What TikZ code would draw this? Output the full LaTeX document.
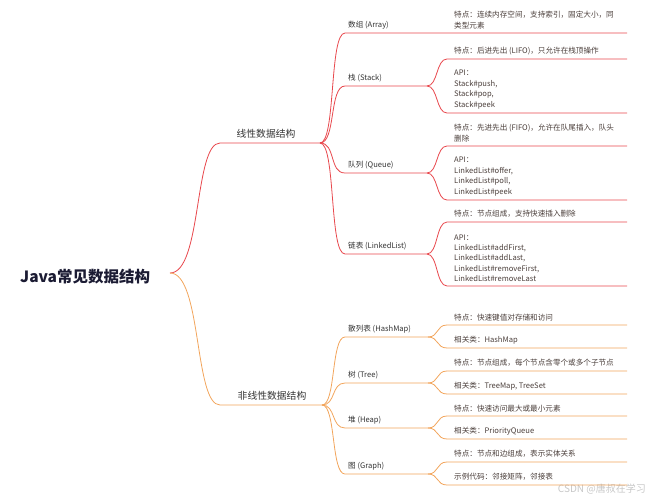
\documentclass[tikz,border=0pt]{standalone}
\usepackage{fontspec}
\setmainfont{Noto Sans CJK SC}
\definecolor{linred}{HTML}{E8474C}
\definecolor{nonorange}{HTML}{F2A55C}
\definecolor{labelgray}{HTML}{333333}
\definecolor{leafgray}{HTML}{4A3E3A}
\definecolor{rootnavy}{HTML}{1B1B33}
\tikzset{
  rootlabel/.style={anchor=west, inner sep=0pt, text=rootnavy,
    font=\bfseries\fontsize{15.5}{18}\selectfont},
  grouplabel/.style={anchor=south, inner sep=1pt, text=labelgray,
    font=\fontsize{9.8}{12}\selectfont},
  kindlabel/.style={anchor=south west, inner sep=1pt, text=labelgray,
    font=\fontsize{7.6}{10}\selectfont},
  leaflabel/.style={anchor=south west, inner sep=1pt, text=leafgray, align=left,
    font=\fontsize{7.6}{10.4}\selectfont},
}
\begin{document}
\begin{tikzpicture}[x=1pt,y=-1pt]
      \useasboundingbox (0,0) rectangle (650,500);
      % ends of the lines
      \path
        (170,273) coordinate (root-r)
        (220,143) coordinate (lin-s) (320,143) coordinate (lin-e)
        (220,405) coordinate (non-s) (322,405) coordinate (non-e)
        (345,33) coordinate (arr-s) (627,33) coordinate (arr-e)
        (345,86) coordinate (stk-s) (427,86) coordinate (stk-e)
        (345,173) coordinate (que-s) (427,173) coordinate (que-e)
        (345,254) coordinate (lnk-s) (427,254) coordinate (lnk-e)
        (345,337) coordinate (hsh-s) (428,337) coordinate (hsh-e)
        (345,383) coordinate (tre-s) (428,383) coordinate (tre-e)
        (345,428) coordinate (hep-s) (428,428) coordinate (hep-e)
        (345,474) coordinate (grp-s) (428,474) coordinate (grp-e)
        (447,59) coordinate (stk1-s) (627,59) coordinate (stk1-e)
        (447,113) coordinate (stk2-s) (627,113) coordinate (stk2-e)
        (447,146) coordinate (que1-s) (627,146) coordinate (que1-e)
        (447,200) coordinate (que2-s) (627,200) coordinate (que2-e)
        (447,222) coordinate (lnk1-s) (627,222) coordinate (lnk1-e)
        (447,286) coordinate (lnk2-s) (627,286) coordinate (lnk2-e)
        (447,325) coordinate (hsh1-s) (627,325) coordinate (hsh1-e)
        (447,348) coordinate (hsh2-s) (627,348) coordinate (hsh2-e)
        (447,371) coordinate (tre1-s) (627,371) coordinate (tre1-e)
        (447,394) coordinate (tre2-s) (627,394) coordinate (tre2-e)
        (447,416) coordinate (hep1-s) (627,416) coordinate (hep1-e)
        (447,439) coordinate (hep2-s) (627,439) coordinate (hep2-e)
        (447,462) coordinate (grp1-s) (627,462) coordinate (grp1-e)
        (447,485) coordinate (grp2-s) (627,485) coordinate (grp2-e);
      % texts
      \node[rootlabel] (root) at (20,277) {Java常见数据结构};
      \node[grouplabel] (lin) at (266,140) {线性数据结构};
      \node[grouplabel] (non) at (272,402) {非线性数据结构};
      \node[kindlabel] (arr) at (347,30) {数组 (Array)};
      \node[kindlabel] (stk) at (347,83) {栈 (Stack)};
      \node[kindlabel] (que) at (347,170) {队列 (Queue)};
      \node[kindlabel] (lnk) at (347,251) {链表 (LinkedList)};
      \node[kindlabel] (hsh) at (347,334) {散列表 (HashMap)};
      \node[kindlabel] (tre) at (347,380) {树 (Tree)};
      \node[kindlabel] (hep) at (347,425) {堆 (Heap)};
      \node[kindlabel] (grp) at (347,471) {图 (Graph)};
      \node[leaflabel] (arr1) at (453,30) {特点：连续内存空间，支持索引，固定大小，同\\类型元素};
      \node[leaflabel] (stk1) at (453,56) {特点：后进先出 (LIFO)，只允许在栈顶操作};
      \node[leaflabel] (stk2) at (453,110) {API：\\Stack\#push,\\Stack\#pop,\\Stack\#peek};
      \node[leaflabel] (que1) at (453,143) {特点：先进先出 (FIFO)，允许在队尾插入，队头\\删除};
      \node[leaflabel] (que2) at (453,197) {API：\\LinkedList\#offer,\\LinkedList\#poll,\\LinkedList\#peek};
      \node[leaflabel] (lnk1) at (453,219) {特点：节点组成，支持快速插入删除};
      \node[leaflabel] (lnk2) at (453,283) {API：\\LinkedList\#addFirst,\\LinkedList\#addLast,\\LinkedList\#removeFirst,\\LinkedList\#removeLast};
      \node[leaflabel] (hsh1) at (453,322) {特点：快速键值对存储和访问};
      \node[leaflabel] (hsh2) at (453,345) {相关类：HashMap};
      \node[leaflabel] (tre1) at (453,368) {特点：节点组成，每个节点含零个或多个子节点};
      \node[leaflabel] (tre2) at (453,391) {相关类：TreeMap, TreeSet};
      \node[leaflabel] (hep1) at (453,413) {特点：快速访问最大或最小元素};
      \node[leaflabel] (hep2) at (453,436) {相关类：PriorityQueue};
      \node[leaflabel] (grp1) at (453,459) {特点：节点和边组成，表示实体关系};
      \node[leaflabel] (grp2) at (453,482) {示例代码：邻接矩阵，邻接表};
      \node[anchor=east, inner sep=0pt, text=black!22, font=\fontsize{10}{12}\selectfont] (mark) at (646,489) {CSDN @唐叔在学习};
      % linear branch
      \begin{scope}[draw=linred, line width=0.8pt]
        \draw (root-r) .. controls +(32,0) and +(-26,0) .. (lin-s) -- (lin-e);
        \draw (lin-e) .. controls +(16,0) and +(-16,0) .. (arr-s) -- (arr-e);
        \draw (lin-e) .. controls +(16,0) and +(-16,0) .. (stk-s) -- (stk-e);
        \draw (lin-e) .. controls +(16,0) and +(-16,0) .. (que-s) -- (que-e);
        \draw (lin-e) .. controls +(16,0) and +(-16,0) .. (lnk-s) -- (lnk-e);
        \draw (stk-e) .. controls +(11,0) and +(-11,0) .. (stk1-s) -- (stk1-e);
        \draw (stk-e) .. controls +(11,0) and +(-11,0) .. (stk2-s) -- (stk2-e);
        \draw (que-e) .. controls +(11,0) and +(-11,0) .. (que1-s) -- (que1-e);
        \draw (que-e) .. controls +(11,0) and +(-11,0) .. (que2-s) -- (que2-e);
        \draw (lnk-e) .. controls +(11,0) and +(-11,0) .. (lnk1-s) -- (lnk1-e);
        \draw (lnk-e) .. controls +(11,0) and +(-11,0) .. (lnk2-s) -- (lnk2-e);
      \end{scope}
      % non-linear branch
      \begin{scope}[draw=nonorange, line width=0.8pt]
        \draw (root-r) .. controls +(32,0) and +(-26,0) .. (non-s) -- (non-e);
        \draw (non-e) .. controls +(14,0) and +(-14,0) .. (hsh-s) -- (hsh-e);
        \draw (non-e) .. controls +(14,0) and +(-14,0) .. (tre-s) -- (tre-e);
        \draw (non-e) .. controls +(14,0) and +(-14,0) .. (hep-s) -- (hep-e);
        \draw (non-e) .. controls +(14,0) and +(-14,0) .. (grp-s) -- (grp-e);
        \draw (hsh-e) .. controls +(11,0) and +(-11,0) .. (hsh1-s) -- (hsh1-e);
        \draw (hsh-e) .. controls +(11,0) and +(-11,0) .. (hsh2-s) -- (hsh2-e);
        \draw (tre-e) .. controls +(11,0) and +(-11,0) .. (tre1-s) -- (tre1-e);
        \draw (tre-e) .. controls +(11,0) and +(-11,0) .. (tre2-s) -- (tre2-e);
        \draw (hep-e) .. controls +(11,0) and +(-11,0) .. (hep1-s) -- (hep1-e);
        \draw (hep-e) .. controls +(11,0) and +(-11,0) .. (hep2-s) -- (hep2-e);
        \draw (grp-e) .. controls +(11,0) and +(-11,0) .. (grp1-s) -- (grp1-e);
        \draw (grp-e) .. controls +(11,0) and +(-11,0) .. (grp2-s) -- (grp2-e);
      \end{scope}
    \end{tikzpicture}
\end{document}
